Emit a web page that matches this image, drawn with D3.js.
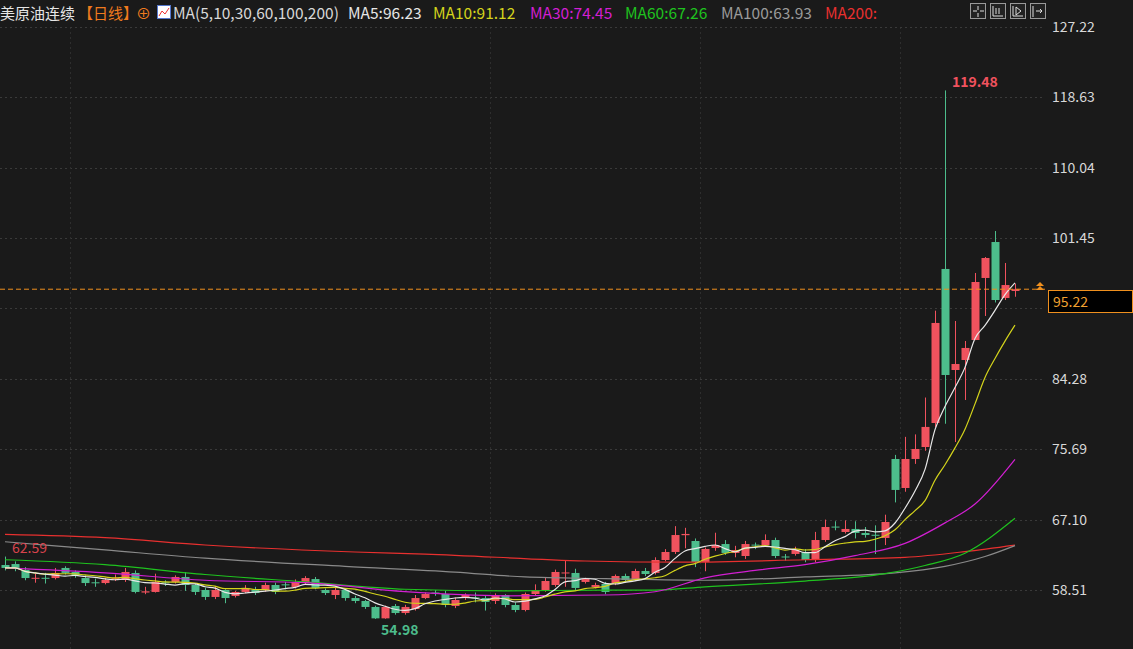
<!DOCTYPE html>
<html><head><meta charset="utf-8">
<script src="https://cdn.jsdelivr.net/npm/d3@7"></script>
<style>body{margin:0;background:#1a1a1a;overflow:hidden}svg{display:block}</style>
</head><body><svg id="c" width="1133" height="649"></svg>
<script>
// [open, close, high, low]
const candles = [
[61.56,61.20,62.59,60.9],[61.68,61.20,62.0,60.8],[60.95,59.97,61.3,59.7],[59.9,60.0,60.5,59.4],[60.0,59.9,60.6,59.3],
[59.97,60.59,61.2,59.8],[61.20,60.59,61.4,60.4],[60.71,60.35,60.9,60.0],[59.97,59.36,60.3,59.0],[59.45,59.36,59.9,58.9],
[59.36,59.73,60.0,59.2],[59.9,60.0,60.4,59.6],[59.73,60.71,61.2,59.5],[60.59,58.27,60.9,58.1],[58.2,58.35,58.9,58.0],
[58.27,59.49,60.5,58.2],[59.45,59.36,59.7,59.0],[59.49,60.10,60.3,59.3],[60.10,59.12,60.7,58.4],[59.12,58.27,59.3,57.9],
[58.51,57.66,58.8,57.3],[57.66,58.51,59.0,57.4],[58.51,57.53,58.6,56.9],[57.78,58.27,58.4,57.6],[58.27,58.76,59.1,58.1],
[58.51,58.14,58.9,57.9],[58.51,59.12,59.4,58.3],[59.12,58.27,59.4,58.0],[59.2,59.12,59.5,58.6],[58.88,59.49,59.8,58.7],
[59.36,59.97,60.2,59.2],[59.85,58.76,60.1,58.6],[58.51,58.14,58.7,57.9],[57.90,58.51,58.8,57.4],[58.51,57.53,58.7,57.2],
[57.53,57.17,57.8,56.9],[57.17,56.44,57.3,56.2],[56.44,55.05,56.6,54.98],[55.05,56.44,56.6,55.0],[56.56,55.70,56.8,55.5],
[55.70,56.44,56.7,55.5],[56.19,57.53,57.9,56.0],[57.53,58.02,58.2,57.4],[58.2,58.14,58.5,57.8],[58.02,56.68,58.4,56.4],
[56.56,57.29,57.6,56.3],[57.53,57.90,58.1,57.3],[57.6,57.53,58.2,57.0],[57.53,57.05,57.8,56.0],[57.17,57.90,58.1,56.8],
[57.90,56.68,58.0,56.4],[56.68,56.07,57.0,55.8],[56.07,58.02,58.2,55.9],[58.02,58.51,59.2,57.8],[58.51,59.61,60.0,58.3],
[59.12,60.71,61.0,58.9],[60.55,60.65,62.17,58.9],[60.59,58.76,61.1,58.5],[59.49,59.85,60.0,59.3],[58.88,59.12,59.4,58.7],
[59.24,58.27,59.5,58.0],[59.36,60.22,60.4,59.1],[60.22,59.73,60.5,59.5],[59.73,60.83,61.1,59.6],[60.83,60.46,61.2,60.2],
[60.59,62.17,62.5,60.4],[62.17,63.15,63.5,62.0],[63.15,65.22,66.3,62.9],[65.2,65.35,66.1,63.6],[64.49,61.93,64.8,61.3],
[61.93,63.52,63.7,60.8],[63.64,64.00,65.5,63.3],[64.12,63.03,64.6,62.8],[63.03,63.39,63.9,62.5],[62.66,64.12,64.5,62.3],
[64.05,64.0,64.3,63.5],[64.0,64.61,65.3,63.8],[64.61,62.66,64.9,62.4],[62.6,62.54,62.9,62.1],[62.91,63.39,63.8,62.7],
[63.15,62.17,63.5,61.9],[62.17,64.61,65.6,61.9],[64.61,66.20,67.1,64.4],[66.25,66.20,66.9,65.8],[65.59,65.96,67.0,65.4],
[65.96,65.47,66.9,64.8],[65.47,65.22,66.2,64.9],[65.25,65.22,66.4,62.9],[64.86,66.81,67.7,64.0],[74.50,70.72,75.0,69.2],
[70.96,74.50,77.2,70.5],[74.50,75.72,77.5,73.9],[75.96,78.41,82.0,75.5],[78.89,91.10,92.6,78.4],[97.69,84.75,119.48,78.8],
[85.36,86.09,91.34,76.57],[86.58,88.05,88.9,81.70],[89.02,96.10,97.20,89.0],[96.59,99.03,99.15,91.95],[100.98,93.90,102.32,93.6],
[94.15,95.73,98.42,93.9],[95.0,95.22,95.9,94.3]];
// longer averages: [candle index, value]
const ma30 = [[0,61.2],[10,60.6],[20,59.7],[30,59.4],[40,58.3],[50,57.8],[60,57.9],[65,58.3],[70,60.0],[75,60.9],[80,61.6],[85,62.7],[90,64.2],[94,66.7],[97,69.0],[101,74.45]];
const ma60 = [[0,62.2],[10,61.6],[20,60.4],[30,59.5],[40,58.6],[50,58.4],[60,58.5],[65,58.5],[70,58.9],[80,59.6],[88,60.5],[92,61.5],[96,63.0],[101,67.26]];
const ma100 = [[0,64.4],[10,63.4],[20,62.4],[34,61.4],[45,60.7],[52,60.1],[60,59.9],[70,59.7],[80,60.1],[89,60.6],[94,61.4],[98,62.6],[101,63.93]];
const ma200 = [[0,65.3],[10,64.9],[20,64.0],[35,63.15],[42,62.9],[58,62.05],[68,61.9],[80,62.2],[90,62.5],[96,63.2],[101,64.0]];
const yTicks = [127.22,118.63,110.04,101.45,84.28,75.69,67.10,58.51];
const hiddenTick = 92.87;
const vGrid = [6,48,69,89];
const lastPrice = 95.22;

const svg = d3.select("#c");
const font = "'Microsoft YaHei','Noto Sans CJK SC',Arial,sans-serif";
const x = d3.scaleLinear().domain([0,101]).range([5,1015]);
const y = d3.scaleLinear().domain([58.51,127.22]).range([590,27]);
const UP="#f0525e", DN="#4dbd8c";

// grid
svg.append("g").selectAll("line").data(yTicks.concat([hiddenTick])).join("line")
 .attr("x1",0).attr("x2",1045).attr("y1",d=>Math.round(y(d))+0.5).attr("y2",d=>Math.round(y(d))+0.5)
 .attr("stroke","#3a3a3a").attr("stroke-dasharray","2,3");
svg.append("g").selectAll("line").data(vGrid).join("line")
 .attr("x1",d=>x(d)+5.5).attr("x2",d=>x(d)+5.5).attr("y1",27).attr("y2",649)
 .attr("stroke","#2e2e2e").attr("stroke-dasharray","2,3");

// axis
const ax = d3.axisRight(y).tickValues(yTicks).tickFormat(d3.format(".2f")).tickSize(0).tickPadding(0);
const ag = svg.append("g").attr("transform","translate(1052,0)").call(ax);
ag.select(".domain").remove();
ag.selectAll("text").attr("fill","#d8d8d8").attr("font-size",14).attr("font-family",font);

// candles
const g = svg.append("g");
candles.forEach((c,i)=>{
  const [o,cl,h,l]=c, col = cl>=o?UP:DN, cx=Math.round(x(i))+0.5;
  g.append("line").attr("x1",cx).attr("x2",cx).attr("y1",y(h)).attr("y2",y(l)).attr("stroke",col);
  const t=y(Math.max(o,cl)), b=y(Math.min(o,cl));
  g.append("rect").attr("x",cx-4).attr("width",8).attr("y",t).attr("height",Math.max(1,b-t)).attr("fill",col);
});

// moving averages
const closes = candles.map(c=>c[1]);
function sma(n){return closes.map((v,i)=>{const s=closes.slice(Math.max(0,i-n+1),i+1);return [i,d3.mean(s)];});}
const line = d3.line().x(d=>x(d[0])).y(d=>y(d[1])).curve(d3.curveMonotoneX);
[[ma200,"#e8302f"],[ma100,"#8a8a8a"],[ma60,"#1fc21f"],[ma30,"#d21fd2"],[sma(10),"#d4d41c"],[sma(5),"#e8e8e8"]]
 .forEach(([d,c])=>svg.append("path").attr("d",line(d)).attr("fill","none").attr("stroke",c).attr("stroke-width",1.2));

// last price
svg.append("line").attr("x1",0).attr("x2",1045).attr("y1",y(lastPrice)).attr("y2",y(lastPrice))
 .attr("stroke","#f0901e").attr("stroke-dasharray","5,3");
svg.append("rect").attr("x",1048.5).attr("y",290.5).attr("width",84).attr("height",22).attr("fill","#000").attr("stroke","#f0901e");
svg.append("text").attr("x",1053).attr("y",307).text(lastPrice.toFixed(2)).attr("fill","#f0a030").attr("font-size",14).attr("font-family",font);
svg.append("path").attr("d","M1036,286 l4,-4 l4,4 Z M1036,290 l4,-4 l4,4 Z").attr("fill","#f0901e");

// extreme labels
svg.append("text").attr("x",952).attr("y",87).text("119.48").attr("fill",UP).attr("font-weight","bold").attr("font-size",14).attr("font-family",font);
svg.append("text").attr("x",381).attr("y",635).text("54.98").attr("fill",DN).attr("font-weight","bold").attr("font-size",14).attr("font-family",font);
svg.append("text").attr("x",12).attr("y",553).text("62.59").attr("fill","#d8434c").attr("font-size",14).attr("font-family",font);

// header
svg.append("line").attr("x1",0).attr("x2",1045).attr("y1",27.5).attr("y2",27.5).attr("stroke","#3a3a3a").attr("stroke-dasharray","2,3");
const hdr=[["美原油连续","#e6e6e6",0],["【日线】","#f07a1e",78],["⊕","#f07a1e",136]];
hdr.forEach(([t,c,px])=>svg.append("text").attr("x",px).attr("y",19).text(t).attr("fill",c).attr("font-size",15).attr("font-family",font));
svg.append("rect").attr("x",157.5).attr("y",5.5).attr("width",13).attr("height",13).attr("fill","#fff").attr("stroke","#5577cc");
svg.append("path").attr("d","M159,16 l3,-5 l3,3 l4,-6").attr("stroke","#e33").attr("fill","none");
const ma=[["MA(5,10,30,60,100,200)","#d8d8d8",173],["MA5:96.23","#e6e6e6",348],["MA10:91.12","#d4d41c",433],["MA30:74.45","#d21fd2",530],["MA60:67.26","#1fc21f",625],["MA100:63.93","#9a9a9a",721],["MA200:","#e8302f",825]];
ma.forEach(([t,c,px])=>svg.append("text").attr("x",px).attr("y",19).text(t).attr("fill",c).attr("font-size",15.5).attr("font-family",font));
// toolbar icons
[970,990,1010,1030].forEach((px,i)=>{
  svg.append("rect").attr("x",px+0.5).attr("y",3.5).attr("width",15).attr("height",15).attr("fill","#222").attr("stroke","#999");
});
svg.append("path").attr("d","M978,6 v4 M978,13 v4 M973,11 h4 M980,11 h4 M993,6 v10 h10 M996,14 v-6 M999,14 v-6 M1013,6 v10 h10 M1016,7 l5,4 l-5,4 Z M1033,6 v11 M1036,11 h6 l-2,-2 M1040,13 l2,-2")
 .attr("stroke","#ddd").attr("fill","none");
</script></body></html>
